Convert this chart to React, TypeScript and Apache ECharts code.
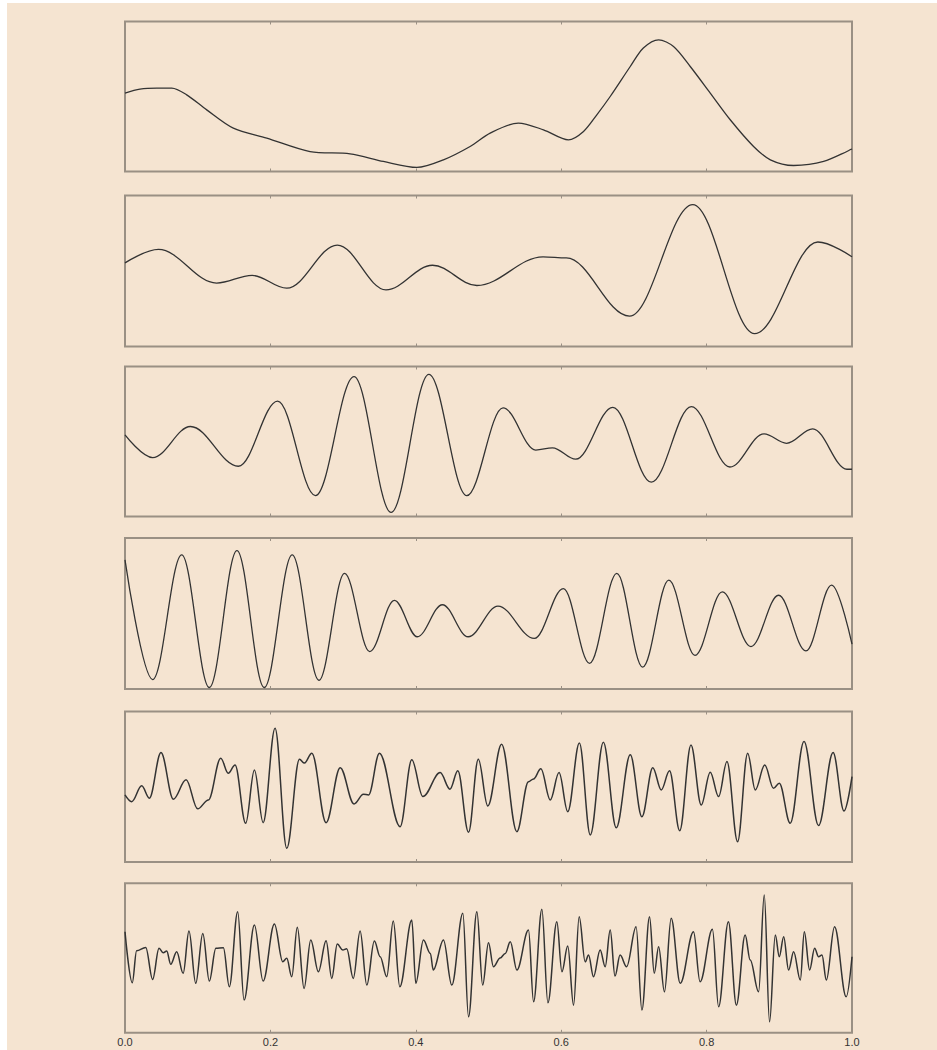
import React, { useEffect, useRef } from "react";
import * as echarts from "echarts";

// x tick labels (shown on the bottom panel only)
const xTickLabels = ["0.0", "0.2", "0.4", "0.6", "0.8", "1.0"];

// Each wave: [x, y] with x in 0..1 and y as a fraction of the panel height
const wave1: [number, number][] = [
  [0, 0.523], [0.0206, 0.549], [0.0436, 0.556], [0.0643, 0.556], [0.0849, 0.511],
  [0.1124, 0.411], [0.149, 0.289], [0.195, 0.223], [0.2546, 0.133], [0.3096, 0.118],
  [0.3554, 0.067], [0.4014, 0.027], [0.438, 0.078], [0.4747, 0.167], [0.5023, 0.256],
  [0.541, 0.323], [0.5756, 0.278], [0.61, 0.211], [0.6307, 0.267], [0.649, 0.378],
  [0.6674, 0.5], [0.695, 0.7], [0.713, 0.823], [0.734, 0.878], [0.7545, 0.833],
  [0.7775, 0.7], [0.805, 0.523], [0.8325, 0.345], [0.8646, 0.167], [0.8877, 0.078],
  [0.9197, 0.04], [0.961, 0.067], [1, 0.151],
];

const wave2: [number, number][] = [
  [0, 0.554], [0.046, 0.643], [0.126, 0.42], [0.175, 0.471], [0.2225, 0.386],
  [0.292, 0.672], [0.359, 0.375], [0.423, 0.538], [0.484, 0.404], [0.575, 0.594],
  [0.607, 0.587], [0.694, 0.201], [0.781, 0.94], [0.866, 0.085], [0.953, 0.692],
  [1, 0.594],
];

const wave3: [number, number][] = [
  [0, 0.544], [0.038, 0.393], [0.09, 0.6], [0.156, 0.335], [0.21, 0.769],
  [0.262, 0.139], [0.315, 0.933], [0.366, 0.027], [0.418, 0.948], [0.47, 0.139],
  [0.52, 0.724], [0.565, 0.443], [0.588, 0.458], [0.62, 0.382], [0.671, 0.728],
  [0.724, 0.229], [0.779, 0.733], [0.832, 0.33], [0.879, 0.551], [0.91, 0.488],
  [0.946, 0.584], [0.993, 0.315], [1, 0.315],
];

const wave4: [number, number][] = [
  [0, 0.855], [0.038, 0.0625], [0.078, 0.888], [0.116, 0.01], [0.154, 0.917],
  [0.1915, 0.01], [0.23, 0.888], [0.2667, 0.058], [0.302, 0.766], [0.3366, 0.248],
  [0.3706, 0.587], [0.402, 0.346], [0.4366, 0.558], [0.472, 0.346], [0.513, 0.549],
  [0.563, 0.335], [0.603, 0.665], [0.639, 0.17], [0.6765, 0.766], [0.712, 0.145],
  [0.748, 0.721], [0.784, 0.223], [0.8216, 0.643], [0.861, 0.281], [0.899, 0.621],
  [0.9366, 0.252], [0.972, 0.6875], [1, 0.297],
];

const wave5: [number, number][] = [
  [0, 0.446], [0.0092, 0.401], [0.023, 0.506], [0.0335, 0.424], [0.0495, 0.727],
  [0.0665, 0.417], [0.084, 0.546], [0.1, 0.353], [0.1147, 0.4125], [0.1317, 0.69],
  [0.142, 0.59], [0.1514, 0.645], [0.166, 0.2575], [0.178, 0.612], [0.19, 0.2615],
  [0.2064, 0.889], [0.2225, 0.091], [0.24, 0.683], [0.2467, 0.657], [0.257, 0.723],
  [0.2766, 0.2615], [0.296, 0.627], [0.315, 0.386], [0.328, 0.45], [0.335, 0.446],
  [0.35, 0.723], [0.3784, 0.235], [0.3945, 0.679], [0.4097, 0.4345], [0.4335, 0.594],
  [0.447, 0.484], [0.4578, 0.6055], [0.4725, 0.1975], [0.486, 0.683], [0.499, 0.3726],
  [0.518, 0.783], [0.539, 0.2016], [0.555, 0.534], [0.562, 0.552], [0.572, 0.619],
  [0.585, 0.4125], [0.597, 0.594], [0.609, 0.3347], [0.625, 0.79], [0.64, 0.18],
  [0.658, 0.796], [0.6757, 0.228], [0.695, 0.712], [0.711, 0.301], [0.726, 0.627],
  [0.7376, 0.479], [0.749, 0.6055], [0.763, 0.208], [0.7785, 0.778], [0.7926, 0.379],
  [0.805, 0.597], [0.8165, 0.4345], [0.828, 0.667], [0.8426, 0.135], [0.8565, 0.723],
  [0.867, 0.479], [0.88, 0.645], [0.892, 0.49], [0.9, 0.5235], [0.915, 0.2575],
  [0.934, 0.8], [0.954, 0.242], [0.974, 0.727], [0.989, 0.339], [1, 0.5675],
];

const wave6: [number, number][] = [
  [0, 0.676], [0.01, 0.335], [0.016, 0.549], [0.0285, 0.571], [0.038, 0.357],
  [0.0468, 0.565], [0.0527, 0.535], [0.0574, 0.547], [0.0629, 0.458], [0.0711, 0.542],
  [0.08, 0.3976], [0.088, 0.681], [0.0973, 0.331], [0.107, 0.665], [0.116, 0.346],
  [0.125, 0.565], [0.1353, 0.569], [0.1435, 0.308], [0.155, 0.81], [0.1638, 0.219],
  [0.178, 0.721], [0.19, 0.346], [0.2055, 0.7275], [0.217, 0.475], [0.2225, 0.498],
  [0.2294, 0.375], [0.237, 0.7055], [0.2463, 0.297], [0.2555, 0.6205], [0.266, 0.408],
  [0.2766, 0.616], [0.2844, 0.364], [0.292, 0.594], [0.2996, 0.5535], [0.305, 0.562],
  [0.314, 0.364], [0.3234, 0.681], [0.3326, 0.319], [0.343, 0.614], [0.351, 0.509],
  [0.36, 0.375], [0.369, 0.7477], [0.378, 0.308], [0.3945, 0.754], [0.4, 0.331],
  [0.4105, 0.6205], [0.42, 0.531], [0.424, 0.42], [0.438, 0.6205], [0.4495, 0.319],
  [0.4647, 0.799], [0.4725, 0.107], [0.484, 0.81], [0.492, 0.319], [0.5, 0.6025],
  [0.5068, 0.442], [0.516, 0.5], [0.523, 0.531], [0.53, 0.609], [0.539, 0.42],
  [0.555, 0.687], [0.562, 0.2075], [0.5734, 0.826], [0.5817, 0.201], [0.594, 0.743],
  [0.601, 0.408], [0.609, 0.58], [0.617, 0.185], [0.6247, 0.776], [0.633, 0.475],
  [0.6376, 0.52], [0.6444, 0.375], [0.6536, 0.5535], [0.6605, 0.442], [0.6674, 0.687],
  [0.674, 0.3795], [0.681, 0.52], [0.69, 0.442], [0.703, 0.7095], [0.711, 0.152],
  [0.7215, 0.776], [0.728, 0.3976], [0.734, 0.5757], [0.742, 0.274], [0.7513, 0.7657],
  [0.7637, 0.331], [0.782, 0.676], [0.791, 0.341], [0.808, 0.692], [0.8165, 0.174],
  [0.83, 0.743], [0.841, 0.185], [0.853, 0.654], [0.86, 0.4866], [0.8715, 0.274],
  [0.8793, 0.9217], [0.8866, 0.0736], [0.8945, 0.654], [0.9, 0.509], [0.906, 0.6426],
  [0.9128, 0.42], [0.9197, 0.542], [0.9289, 0.3527], [0.9344, 0.676], [0.9417, 0.42],
  [0.9486, 0.565], [0.954, 0.509], [0.9587, 0.52], [0.9647, 0.3527], [0.976, 0.7095],
  [0.992, 0.241], [1, 0.509],
];

const waves = [wave1, wave2, wave3, wave4, wave5, wave6];

const BG = "#f5e4d1";
const FRAME = "#9a9084";
const INK = "#333333";

export default function App() {
  const ref = useRef<HTMLDivElement>(null);

  useEffect(() => {
    if (!ref.current) return;
    const chart = echarts.init(ref.current, null, { renderer: "svg" });

    const tops = [18.5, 192.5, 363.5, 535, 708.5, 880.3];
    const heights = [150, 151, 150, 151, 150.5, 149.5];
    const n = waves.length;

    const grid = tops.map((t, i) => ({
      left: 118,
      width: 727,
      top: t,
      height: heights[i],
      show: true,
      borderColor: FRAME,
      borderWidth: 2,
      backgroundColor: "transparent",
      containLabel: false,
    }));

    const xAxis: any[] = [];
    waves.forEach((_, i) => {
      const base = {
        gridIndex: i,
        type: "value",
        min: 0,
        max: 1,
        interval: 0.2,
        axisLine: { show: false },
        splitLine: { show: false },
        axisTick: {
          show: true,
          inside: true,
          length: 3,
          lineStyle: { color: FRAME, width: 1 },
        },
      };
      xAxis.push({
        ...base,
        position: "bottom",
        axisLabel: {
          show: i === n - 1,
          margin: 4,
          fontSize: 11,
          color: "#333",
          fontFamily: "Liberation Sans, Arial, sans-serif",
          formatter: (v: number) => xTickLabels[Math.round(v / 0.2)] ?? "",
        },
      });
      xAxis.push({
        ...base,
        position: "top",
        axisLabel: { show: false },
      });
    });

    const yAxis = waves.map((_, i) => ({
      gridIndex: i,
      type: "value",
      min: 0,
      max: 1,
      show: false,
    }));

    const series = waves.map((w, i) => ({
      type: "line",
      xAxisIndex: 2 * i,
      yAxisIndex: i,
      data: w,
      smooth: i === 0 ? 0.3 : 0.36,
      smoothMonotone: i === 0 ? undefined : "x",
      showSymbol: false,
      silent: true,
      clip: true,
      lineStyle: { color: INK, width: i >= 4 ? 1.5 : 1.3 },
    }));

    chart.setOption({
      animation: false,
      backgroundColor: BG,
      grid,
      xAxis,
      yAxis,
      series,
    });

    return () => chart.dispose();
  }, []);

  return (
    <div
      ref={ref}
      style={{
        position: "absolute",
        left: 7,
        top: 3,
        width: 930,
        height: 1047,
        background: BG,
      }}
    />
  );
}
